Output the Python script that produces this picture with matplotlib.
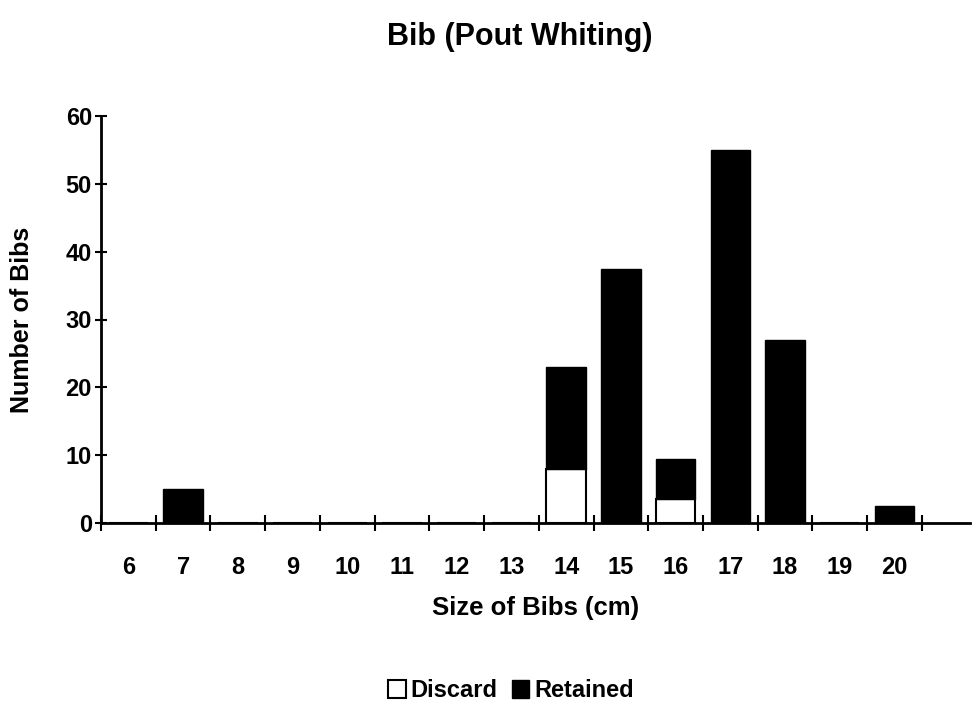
import numpy as np
import matplotlib.pyplot as plt
from matplotlib.ticker import FixedLocator, NullFormatter

plt.rcParams['font.family'] = ['Liberation Sans', 'DejaVu Sans']
plt.rcParams['font.weight'] = 'bold'

sizes = ['6', '7', '8', '9', '10', '11', '12', '13', '14', '15', '16', '17', '18', '19', '20']
discard = [0, 0, 0, 0, 0, 0, 0, 0, 8, 0, 3.5, 0, 0, 0, 0]
retained = [0, 5, 0, 0, 0, 0, 0, 0, 15, 37.5, 6, 55, 27, 0, 2.5]

x = np.arange(len(sizes))
fig = plt.figure(figsize=(9.73, 7.10), dpi=100)
ax = fig.add_axes([101/973, 187/710, 869/973, 407/710])

ax.bar(x, discard, width=0.72, color='white', edgecolor='black', linewidth=1.5, label='Discard')
ax.bar(x, retained, width=0.72, bottom=discard, color='black', edgecolor='black', linewidth=1.0, label='Retained')

ax.set_xlim(-0.5, 15.38)
ax.set_ylim(0, 60)
ax.set_yticks(np.arange(0, 61, 10))
ax.tick_params(axis='y', direction='inout', length=9, width=1.5, labelsize=17, pad=2)

# category labels centred, tick marks on the category boundaries
ax.set_xticks(x)
ax.set_xticklabels(sizes)
ax.tick_params(axis='x', which='major', length=0, labelsize=17, pad=24)
ax.xaxis.set_minor_locator(FixedLocator(np.arange(-0.5, len(sizes), 1.0)))
ax.xaxis.set_minor_formatter(NullFormatter())
ax.tick_params(axis='x', which='minor', direction='inout', length=12, width=1.5)

for s in ['top', 'right']:
    ax.spines[s].set_visible(False)
for s in ['left', 'bottom']:
    ax.spines[s].set_linewidth(2)

ax.set_xlabel('Size of Bibs (cm)', fontsize=18.5, fontweight='bold', labelpad=12)
ax.set_ylabel('Number of Bibs', fontsize=18, fontweight='bold', labelpad=23)
fig.text(0.534, 0.948, 'Bib (Pout Whiting)', ha='center', va='center', fontsize=22, fontweight='bold')

fig.legend(loc='center', bbox_to_anchor=(0.525, 0.027), ncol=2, frameon=False,
           fontsize=17, handlelength=0.75, handleheight=0.75, handletextpad=0.2, columnspacing=0.6)

fig.savefig('out.png', dpi=100)
